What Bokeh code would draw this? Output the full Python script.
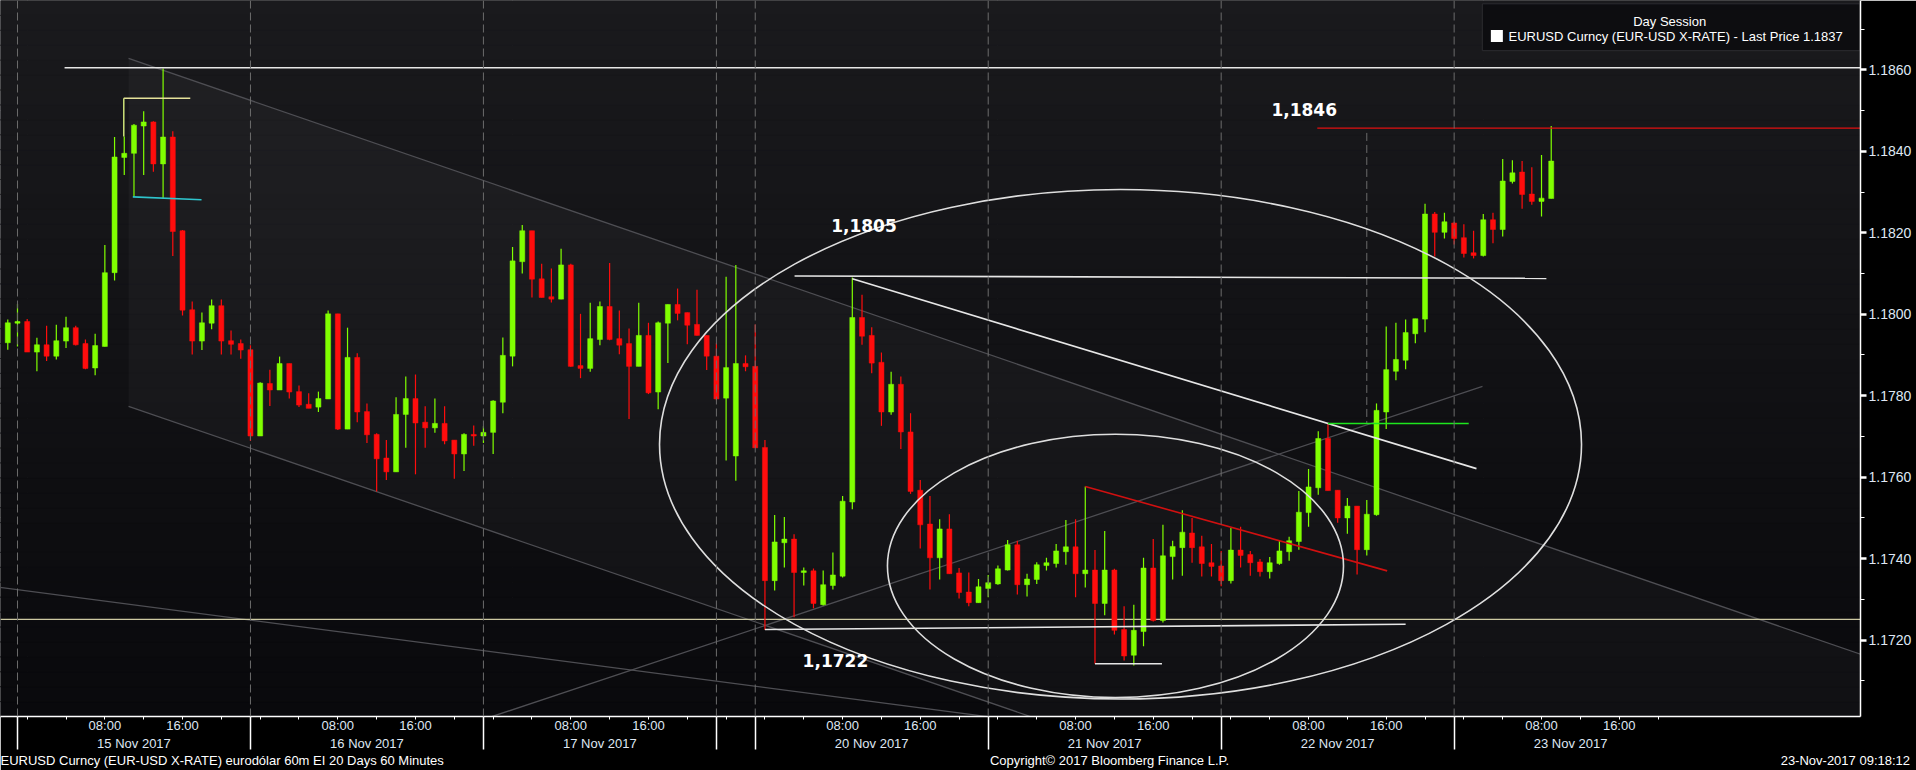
import numpy as np
from bokeh.plotting import figure
from bokeh.models import (Range1d, LinearAxis, FixedTicker, PrintfTickFormatter,
                          Span, ColumnDataSource)
from bokeh.embed import file_html
from bokeh.resources import INLINE
from bokeh.core.properties import value

# ---------------- data: hourly EURUSD candles (index 0 = 15 Nov 2017 00:00) ----------------
idx = list(range(-2, 158))

opens = [
    1.17930, 1.17978, 1.17982, 1.17907, 1.17925, 1.17897, 1.17934, 1.17967, 1.17928, 1.17868,
    1.17921, 1.18102, 1.18385, 1.18395, 1.18462, 1.18472, 1.18369, 1.18435, 1.18205, 1.18011,
    1.17934, 1.17978, 1.18021, 1.17935, 1.17928, 1.17913, 1.17701, 1.17830, 1.17814, 1.17879,
    1.17810, 1.17779, 1.17772, 1.17792, 1.18001, 1.17718, 1.17894, 1.17761, 1.17705, 1.17647,
    1.17613, 1.17754, 1.17793, 1.17735, 1.17721, 1.17732, 1.17691, 1.17657, 1.17705, 1.17701,
    1.17710, 1.17784, 1.17897, 1.18129, 1.18205, 1.18087, 1.18043, 1.18037, 1.18121, 1.17874,
    1.17867, 1.17938, 1.18019, 1.17940, 1.17928, 1.17872, 1.17948, 1.17809, 1.17978, 1.18024,
    1.18004, 1.17975, 1.17948, 1.17897, 1.17794, 1.17652, 1.17879, 1.17872, 1.17673, 1.17346,
    1.17439, 1.17448, 1.17366, 1.17370, 1.17287, 1.17334, 1.17357, 1.17539, 1.17992, 1.17948,
    1.17882, 1.17760, 1.17828, 1.17711, 1.17568, 1.17485, 1.17402, 1.17473, 1.17365, 1.17318,
    1.17292, 1.17327, 1.17338, 1.17372, 1.17434, 1.17336, 1.17349, 1.17383, 1.17388, 1.17417,
    1.17429, 1.17363, 1.17372, 1.17290, 1.17372, 1.17226, 1.17163, 1.17221, 1.17377, 1.17248,
    1.17405, 1.17427, 1.17463, 1.17429, 1.17390, 1.17382, 1.17346, 1.17421, 1.17410, 1.17392,
    1.17368, 1.17388, 1.17417, 1.17442, 1.17513, 1.17574, 1.17695, 1.17568, 1.17500, 1.17529,
    1.17422, 1.17508, 1.17760, 1.17860, 1.17887, 1.17952, 1.17988, 1.18246, 1.18201, 1.18224,
    1.18188, 1.18151, 1.18144, 1.18232, 1.18208, 1.18326, 1.18349, 1.18295, 1.18277, 1.18284,
]
highs = [
    1.17987, 1.18025, 1.17988, 1.17942, 1.17972, 1.17974, 1.17994, 1.17972, 1.17938, 1.17952,
    1.18170, 1.18435, 1.18436, 1.18467, 1.18498, 1.18474, 1.18603, 1.18449, 1.18207, 1.18031,
    1.18004, 1.18036, 1.18036, 1.17960, 1.17938, 1.17924, 1.17833, 1.17864, 1.17896, 1.17879,
    1.17825, 1.17806, 1.17810, 1.18009, 1.18001, 1.17967, 1.17904, 1.17781, 1.17708, 1.17691,
    1.17796, 1.17847, 1.17852, 1.17774, 1.17793, 1.17774, 1.17691, 1.17708, 1.17727, 1.17725,
    1.17789, 1.17943, 1.18165, 1.18219, 1.18205, 1.18124, 1.18112, 1.18161, 1.18124, 1.18001,
    1.18028, 1.18031, 1.18126, 1.18009, 1.17965, 1.18028, 1.17979, 1.17982, 1.18024, 1.18063,
    1.18004, 1.18060, 1.17948, 1.17929, 1.18092, 1.18121, 1.17899, 1.17975, 1.17691, 1.17507,
    1.17502, 1.17460, 1.17378, 1.17376, 1.17371, 1.17415, 1.17554, 1.18090, 1.18048, 1.17968,
    1.17906, 1.17859, 1.17847, 1.17757, 1.17593, 1.17554, 1.17497, 1.17509, 1.17377, 1.17366,
    1.17350, 1.17360, 1.17383, 1.17446, 1.17444, 1.17363, 1.17391, 1.17402, 1.17436, 1.17495,
    1.17497, 1.17577, 1.17421, 1.17468, 1.17375, 1.17283, 1.17287, 1.17402, 1.17448, 1.17483,
    1.17444, 1.17519, 1.17500, 1.17456, 1.17436, 1.17419, 1.17475, 1.17478, 1.17419, 1.17399,
    1.17404, 1.17446, 1.17454, 1.17566, 1.17620, 1.17713, 1.17732, 1.17568, 1.17549, 1.17529,
    1.17544, 1.17781, 1.17970, 1.17979, 1.17987, 1.17989, 1.18271, 1.18251, 1.18249, 1.18227,
    1.18221, 1.18205, 1.18246, 1.18249, 1.18381, 1.18378, 1.18376, 1.18361, 1.18391, 1.18462,
]
lows = [
    1.17913, 1.17921, 1.17907, 1.17860, 1.17885, 1.17889, 1.17917, 1.17923, 1.17865, 1.17850,
    1.17921, 1.18083, 1.18342, 1.18289, 1.18342, 1.18350, 1.18285, 1.18143, 1.17997, 1.17901,
    1.17912, 1.17963, 1.17901, 1.17901, 1.17891, 1.17689, 1.17701, 1.17775, 1.17814, 1.17793,
    1.17772, 1.17769, 1.17760, 1.17792, 1.17716, 1.17718, 1.17735, 1.17684, 1.17565, 1.17593,
    1.17613, 1.17672, 1.17607, 1.17672, 1.17709, 1.17681, 1.17596, 1.17615, 1.17677, 1.17684,
    1.17657, 1.17757, 1.17872, 1.18100, 1.18041, 1.18041, 1.18029, 1.18037, 1.17871, 1.17843,
    1.17859, 1.17924, 1.17936, 1.17902, 1.17743, 1.17872, 1.17804, 1.17767, 1.17880, 1.17985,
    1.17926, 1.17948, 1.17863, 1.17789, 1.17641, 1.17591, 1.17860, 1.17672, 1.17225, 1.17322,
    1.17378, 1.17256, 1.17334, 1.17278, 1.17285, 1.17324, 1.17354, 1.17521, 1.17925, 1.17855,
    1.17726, 1.17753, 1.17669, 1.17559, 1.17425, 1.17324, 1.17349, 1.17363, 1.17302, 1.17283,
    1.17292, 1.17305, 1.17336, 1.17371, 1.17312, 1.17307, 1.17338, 1.17371, 1.17378, 1.17385,
    1.17305, 1.17329, 1.17142, 1.17261, 1.17214, 1.17150, 1.17138, 1.17185, 1.17246, 1.17243,
    1.17349, 1.17358, 1.17390, 1.17356, 1.17356, 1.17332, 1.17339, 1.17378, 1.17358, 1.17356,
    1.17351, 1.17385, 1.17395, 1.17422, 1.17478, 1.17557, 1.17567, 1.17488, 1.17461, 1.17361,
    1.17408, 1.17505, 1.17718, 1.17838, 1.17865, 1.17929, 1.17956, 1.18142, 1.18186, 1.18171,
    1.18139, 1.18137, 1.18142, 1.18174, 1.18191, 1.18321, 1.18259, 1.18269, 1.18240, 1.18284,
]
closes = [
    1.17979, 1.17982, 1.17907, 1.17925, 1.17897, 1.17935, 1.17967, 1.17925, 1.17867, 1.17923,
    1.18102, 1.18386, 1.18395, 1.18464, 1.18472, 1.18369, 1.18435, 1.18203, 1.18010, 1.17934,
    1.17979, 1.18021, 1.17934, 1.17926, 1.17912, 1.17701, 1.17831, 1.17814, 1.17879, 1.17809,
    1.17777, 1.17769, 1.17793, 1.18001, 1.17718, 1.17894, 1.17760, 1.17704, 1.17645, 1.17613,
    1.17754, 1.17793, 1.17733, 1.17721, 1.17732, 1.17689, 1.17657, 1.17705, 1.17701, 1.17710,
    1.17787, 1.17899, 1.18131, 1.18205, 1.18086, 1.18041, 1.18037, 1.18121, 1.17872, 1.17867,
    1.17940, 1.18019, 1.17938, 1.17924, 1.17872, 1.17948, 1.17807, 1.17979, 1.18024, 1.18002,
    1.17973, 1.17948, 1.17897, 1.17792, 1.17869, 1.17879, 1.17871, 1.17672, 1.17346, 1.17441,
    1.17448, 1.17366, 1.17370, 1.17290, 1.17336, 1.17360, 1.17541, 1.17992, 1.17946, 1.17880,
    1.17760, 1.17828, 1.17711, 1.17565, 1.17483, 1.17402, 1.17473, 1.17363, 1.17317, 1.17292,
    1.17331, 1.17341, 1.17375, 1.17434, 1.17336, 1.17350, 1.17385, 1.17390, 1.17419, 1.17429,
    1.17363, 1.17372, 1.17290, 1.17372, 1.17224, 1.17161, 1.17224, 1.17377, 1.17248, 1.17407,
    1.17430, 1.17465, 1.17427, 1.17388, 1.17381, 1.17346, 1.17421, 1.17408, 1.17390, 1.17368,
    1.17390, 1.17419, 1.17444, 1.17514, 1.17576, 1.17695, 1.17567, 1.17500, 1.17529, 1.17422,
    1.17509, 1.17764, 1.17864, 1.17889, 1.17955, 1.17989, 1.18246, 1.18201, 1.18227, 1.18186,
    1.18149, 1.18144, 1.18232, 1.18208, 1.18327, 1.18347, 1.18294, 1.18277, 1.18285, 1.18376,
]

# ---------------- axis ticks / labels ----------------
y_ticks = [1.172, 1.174, 1.176, 1.178, 1.180, 1.182, 1.184, 1.186]
y_minor = [1.171, 1.173, 1.175, 1.177, 1.179, 1.181, 1.183, 1.185, 1.187]
hour_tick_idx = [0, 4, 8, 12, 16, 20, 24, 28, 32, 36, 40, 44, 48, 52, 56, 60, 64, 68, 72,
                 76, 80, 84, 88, 92, 96, 100, 104, 108, 112, 116, 120, 124, 128, 132, 136,
                 140, 144, 148, 152, 156, 160, 164, 168]
hour_tick_labels = ["", "", "08:00", "", "16:00", ""] * 3 + [""] + \
                   ["", "", "08:00", "", "16:00", ""] * 4
day_center_idx = [11, 35, 59, 87, 111, 135, 159]
day_labels = ["15 Nov 2017", "16 Nov 2017", "17 Nov 2017", "20 Nov 2017",
              "21 Nov 2017", "22 Nov 2017", "23 Nov 2017"]
separator_idx = [-1, 23, 47, 71, 75, 99, 123, 147]
footer_pos = [20.0, 111.5, 187.3]
footer_texts = ["EURUSD Curncy (EUR-USD X-RATE) eurodólar 60m EI 20 Days 60 Minutes",
                "Copyright© 2017 Bloomberg Finance L.P.",
                "23-Nov-2017 09:18:12"]

# ---------------- drawn annotations (index, price) ----------------
white_lines = dict(
    x0=[3.85, 79.05, 85.0, 76.0, 110.0],
    y0=[1.18605, 1.18094, 1.18087, 1.17226, 1.17142],
    x1=[190.0, 156.5, 149.3, 142.0, 116.9],
    y1=[1.18605, 1.18088, 1.17621, 1.17239, 1.17142],
)
grey_lines = dict(
    x0=[10.44, 10.44, -3.0, 47.83],
    y0=[1.18628, 1.17774, 1.17330, 1.17012],
    x1=[190.0, 190.0, 100.27, 149.92],
    y1=[1.17156, 1.16302, 1.17008, 1.17823],
)
channel_x = [10.44, 190.0, 190.0, 10.44]
channel_y = [1.18628, 1.17156, 1.16302, 1.17774]
yellow_level = 1.17251
red_level = (132.9, 1.18457)
red_trend = ([109.0, 140.1], [1.17577, 1.17370])
green_level = ([134.0, 148.5], [1.17732, 1.17732])
bracket_h = ([9.95, 16.8], [1.18530, 1.18530])
bracket_v = ([9.95, 9.95], [1.18530, 1.18436])
cyan_line = ([10.88, 17.96], [1.18288, 1.18281])
dash_v = ([138.0, 138.0], [1.18445, 1.17732])
ell_x = [112.63, 112.11]
ell_y = [1.176808, 1.173821]
ell_w = [94.98, 46.98]
ell_h = [0.012509, 0.006463]
note_x = [86.2, 131.55, 83.26]
note_y = [1.18217, 1.18502, 1.17150]
note_txt = ["1,1805", "1,1846", "1,1722"]

# ---------------- figure ----------------
W, H = 1916, 770
X0, X1 = -2.75, 188.86
Y0, Y1 = 1.170125, 1.1877014

p = figure(width=W, height=H, output_backend="svg", toolbar_location=None,
           x_range=Range1d(X0, X1), y_range=Range1d(Y0, Y1),
           x_axis_location=None, y_axis_location=None,
           min_border_left=0, min_border_top=0, min_border_right=56, min_border_bottom=52,
           background_fill_color="#111114", border_fill_color="#000000",
           outline_line_color=None)

# background vertical gradient
nb = 48
edges = np.linspace(Y0, Y1, nb + 1)
tt = (np.arange(nb) + 0.5) / nb
c_bot = np.array([9, 9, 12])
c_top = np.array([26, 26, 29])
bg_cols = ["#%02x%02x%02x" % tuple(int(round(v)) for v in (c_bot + (c_top - c_bot) * t)) for t in tt]
p.quad(left=X0 - 1, right=X1 + 1, bottom=edges[:-1], top=edges[1:],
       fill_color=bg_cols, line_color=bg_cols, line_width=1)

# channel fill
p.patch(channel_x, channel_y, fill_color="white", fill_alpha=0.03, line_color=None)

# day separators
for s in separator_idx:
    p.add_layout(Span(location=s, dimension="height", line_color="#6c6c6c",
                      line_width=1, line_dash="8 4"))
p.line(dash_v[0], dash_v[1], line_color="#6c6c6c", line_width=1, line_dash="8 4")

# grey trend lines
p.segment(x0="x0", y0="y0", x1="x1", y1="y1", source=ColumnDataSource(grey_lines),
          line_color="#4e4e53", line_width=1.3)

# pale yellow level
p.line([X0, X1], [yellow_level, yellow_level], line_color="#cdc9a2", line_width=1.3)

# candles
col = ["#80ff00" if c >= o else "#ff0d0d" for o, c in zip(opens, closes)]
src = ColumnDataSource(dict(x=idx, o=opens, h=highs, l=lows, c=closes,
                            top=[max(o, c) for o, c in zip(opens, closes)],
                            bot=[min(o, c) for o, c in zip(opens, closes)], col=col))
p.segment(x0="x", y0="l", x1="x", y1="h", line_color="col", line_width=1.2, source=src)
p.vbar(x="x", width=0.52, top="top", bottom="bot", fill_color="col", line_color="col",
       line_width=0.5, source=src)

# annotations
p.segment(x0="x0", y0="y0", x1="x1", y1="y1", source=ColumnDataSource(white_lines),
          line_color="#e6e6e6", line_width=1.6)
p.line([red_level[0], 190], [red_level[1], red_level[1]], line_color="#e01010", line_width=1.2)
p.line(*red_trend, line_color="#d01010", line_width=1.6)
p.line(*green_level, line_color="#1ee61e", line_width=1.5)
p.line(*bracket_h, line_color="#e6e29a", line_width=1.5)
p.line(*bracket_v, line_color="#cde27a", line_width=1.5)
p.line(*cyan_line, line_color="#2ec4cc", line_width=1.6)
p.ellipse(x=ell_x, y=ell_y, width=ell_w, height=ell_h, fill_color=None,
          line_color="#dedede", line_width=1.6)
p.text(x=note_x, y=note_y, text=note_txt, text_font=value("DejaVu Sans"),
       text_font_style="bold", text_font_size="17px", text_color="#ffffff",
       text_align="center", text_baseline="middle")

# legend box (Bloomberg style)
p.quad(left=[149.9], right=[188.8], top=[1.18762], bottom=[1.18647],
       fill_color="#0d0d10", line_color="#2c2c30", line_width=1)
p.text(x=[169.2], y=[1.18719], text=["Day Session"], text_font=value("Liberation Sans"),
       text_font_size="13px", text_color="#ffffff", text_align="center", text_baseline="middle")
p.scatter(x=[151.4], y=[1.18683], marker="square", size=12, fill_color="#ffffff", line_color=None)
p.text(x=[152.6], y=[1.18681], text=["EURUSD Curncy (EUR-USD X-RATE) - Last Price  1.1837"],
       text_font=value("Liberation Sans"), text_font_size="13px", text_color="#ffffff",
       text_align="left", text_baseline="middle")

# ---------------- axes ----------------
lab_col = "#dfe7f3"
yax = LinearAxis(ticker=FixedTicker(ticks=y_ticks, minor_ticks=y_minor),
                 formatter=PrintfTickFormatter(format="%.4f"))
yax.axis_line_color = "white"
yax.axis_line_width = 1.5
yax.major_tick_line_color = "white"
yax.major_tick_line_width = 2.5
yax.major_tick_in = 0
yax.major_tick_out = 6
yax.minor_tick_line_color = "white"
yax.minor_tick_in = 0
yax.minor_tick_out = 4
yax.major_label_standoff = 2
yax.major_label_text_font = "Liberation Sans"
yax.major_label_text_font_size = "14px"
yax.major_label_text_color = lab_col
p.add_layout(yax, "right")

# time axis: short 4-hour ticks, long day-separator ticks
xa = LinearAxis(ticker=FixedTicker(ticks=hour_tick_idx, minor_ticks=separator_idx),
                major_label_overrides={k: v for k, v in zip(hour_tick_idx, hour_tick_labels)})
xa.axis_line_color = "white"
xa.axis_line_width = 1.5
xa.major_tick_line_color = "white"
xa.major_tick_in = 0
xa.major_tick_out = 3
xa.minor_tick_line_color = "white"
xa.minor_tick_line_width = 1.5
xa.minor_tick_in = 0
xa.minor_tick_out = 33
xa.major_label_standoff = -32
xa.major_label_text_font = "Liberation Sans"
xa.major_label_text_font_size = "13px"
xa.major_label_text_color = lab_col
p.add_layout(xa, "below")

# date axis
xb = LinearAxis(ticker=FixedTicker(ticks=day_center_idx, minor_ticks=[]),
                major_label_overrides={k: v for k, v in zip(day_center_idx, day_labels)})
xb.axis_line_color = None
xb.major_tick_line_color = None
xb.minor_tick_line_color = None
xb.major_tick_out = 0
xb.minor_tick_out = 0
xb.major_label_standoff = 0
xb.major_label_text_font = "Liberation Sans"
xb.major_label_text_font_size = "13px"
xb.major_label_text_color = lab_col
p.add_layout(xb, "below")

# footer line (Bloomberg source / copyright / timestamp)
xc = LinearAxis(ticker=FixedTicker(ticks=footer_pos, minor_ticks=[]),
                major_label_overrides={k: v for k, v in zip(footer_pos, footer_texts)})
xc.axis_line_color = None
xc.major_tick_line_color = None
xc.minor_tick_line_color = None
xc.major_tick_out = 0
xc.minor_tick_out = 0
xc.major_label_standoff = -1
xc.major_label_text_font = "Liberation Sans"
xc.major_label_text_font_size = "13px"
xc.major_label_text_color = "#ffffff"
p.add_layout(xc, "below")

open("out.html", "w").write(file_html(p, INLINE))
